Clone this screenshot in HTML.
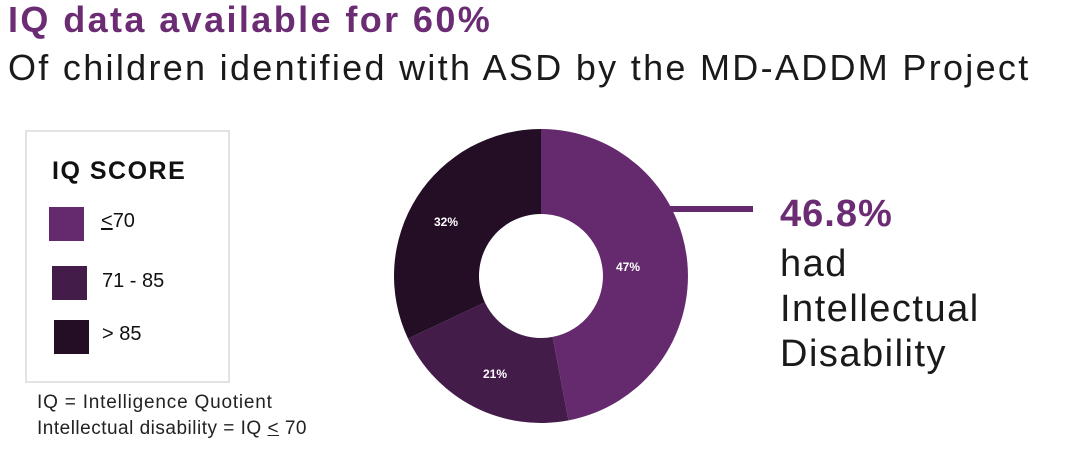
<!DOCTYPE html>
<html><head><meta charset="utf-8"><style>
body{margin:0;width:1067px;height:467px;background:#fff;overflow:hidden;position:relative;font-family:"Liberation Sans","DejaVu Sans",sans-serif;}
.a{position:absolute;white-space:nowrap;}
</style></head><body>
<div class="a" style="left:8px;top:-1px;font-size:36px;font-weight:bold;color:#6b2c74;letter-spacing:2.4px;">IQ data available for 60%</div>
<div class="a" style="left:8px;top:47px;font-size:36px;color:#1a1a1a;letter-spacing:2.3px;">Of children identified with ASD by the MD-ADDM Project</div>
<div class="a" style="left:25px;top:130px;width:201px;height:249px;border:2px solid #e3e3e3;"></div>
<div class="a" style="left:52px;top:157px;font-size:25px;font-weight:bold;color:#111;letter-spacing:1.5px;">IQ SCORE</div>
<div class="a" style="left:49px;top:207px;width:35px;height:34px;background:#652a6e;"></div>
<div class="a" style="left:101px;top:210px;font-size:20px;color:#111;"><u>&lt;</u>70</div>
<div class="a" style="left:52px;top:266px;width:35px;height:34px;background:#441c4a;"></div>
<div class="a" style="left:102px;top:270px;font-size:20px;color:#111;">71 - 85</div>
<div class="a" style="left:54px;top:320px;width:35px;height:34px;background:#230e26;"></div>
<div class="a" style="left:102px;top:323px;font-size:20px;color:#111;">&gt; 85</div>
<div class="a" style="left:37px;top:392px;font-size:19px;color:#222;letter-spacing:0.8px;">IQ = Intelligence Quotient</div>
<div class="a" style="left:37px;top:418px;font-size:19px;color:#222;letter-spacing:0.5px;">Intellectual disability = IQ <u>&lt;</u> 70</div>
<svg class="a" style="left:0;top:0" width="1067" height="467">
<path d="M541,129 A147,147 0 0 1 568.5,420.4 L552.6,336.9 A62,62 0 0 0 541,214 Z" fill="#652a6e"/>
<path d="M568.5,420.4 A147,147 0 0 1 408,338.6 L484.9,302.4 A62,62 0 0 0 552.6,336.9 Z" fill="#441c4a"/>
<path d="M408,338.6 A147,147 0 0 1 541,129 L541,214 A62,62 0 0 0 484.9,302.4 Z" fill="#230e26"/>
<rect x="668" y="206" width="85" height="6" fill="#652a6e"/>
<g font-family="Liberation Sans,sans-serif" font-size="12" font-weight="bold" fill="#fff">
<text x="628" y="271" text-anchor="middle">47%</text>
<text x="446" y="226" text-anchor="middle">32%</text>
<text x="495" y="378" text-anchor="middle">21%</text>
</g>
</svg>
<div class="a" style="left:780px;top:193px;font-size:38px;font-weight:bold;color:#6b2c74;letter-spacing:1px;">46.8%</div>
<div class="a" style="left:780px;top:242px;font-size:38px;line-height:45px;color:#1a1a1a;letter-spacing:1.5px;">had<br>Intellectual<br>Disability</div>
</body></html>
